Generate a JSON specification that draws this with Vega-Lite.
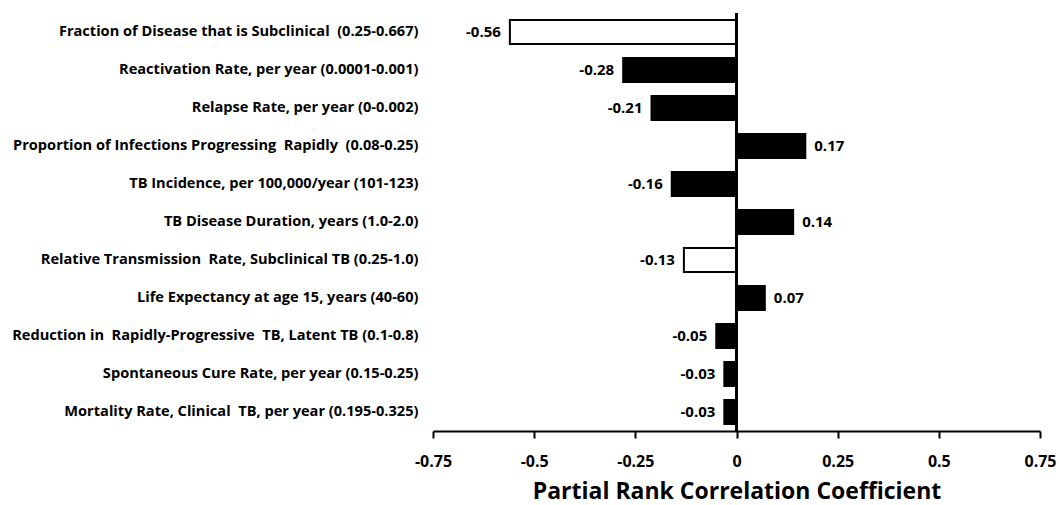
{
  "$schema": "https://vega.github.io/schema/vega-lite/v6.json",
  "autosize": {"type": "none"},
  "padding": {"left": 433, "top": 13, "right": 19, "bottom": 74},
  "width": 607,
  "height": 418,
  "background": "white",
  "config": {"view": {"stroke": null}, "font": "Open Sans"},
  "data": {"values": [
    {"param": "Fraction of Disease that is Subclinical \u00a0(0.25-0.667)", "prcc": -0.56, "kind": "subclinical"},
    {"param": "Reactivation Rate, per year (0.0001-0.001)", "prcc": -0.28, "kind": "other"},
    {"param": "Relapse Rate, per year (0-0.002)", "prcc": -0.21, "kind": "other"},
    {"param": "Proportion of Infections Progressing \u00a0Rapidly \u00a0(0.08-0.25)", "prcc": 0.17, "kind": "other"},
    {"param": "TB Incidence, per 100,000/year (101-123)", "prcc": -0.16, "kind": "other"},
    {"param": "TB Disease Duration, years (1.0-2.0)", "prcc": 0.14, "kind": "other"},
    {"param": "Relative Transmission \u00a0Rate, Subclinical TB (0.25-1.0)", "prcc": -0.13, "kind": "subclinical"},
    {"param": "Life Expectancy at age 15, years (40-60)", "prcc": 0.07, "kind": "other"},
    {"param": "Reduction in \u00a0Rapidly-Progressive \u00a0TB, Latent TB (0.1-0.8)", "prcc": -0.05, "kind": "other"},
    {"param": "Spontaneous Cure Rate, per year (0.15-0.25)", "prcc": -0.03, "kind": "other"},
    {"param": "Mortality Rate, Clinical \u00a0TB, per year (0.195-0.325)", "prcc": -0.03, "kind": "other"}
  ]},
  "encoding": {
    "y": {"field": "param", "type": "nominal", "sort": null,
      "scale": {"paddingInner": 0.37, "paddingOuter": 0.185},
      "axis": {"title": null, "domain": false, "ticks": false, "labelPadding": 15,
        "labelFont": "Open Sans", "labelFontWeight": "bold", "labelFontSize": 14.6, "labelColor": "#000", "labelLimit": 500}}
  },
  "layer": [
    {
      "mark": {"type": "bar", "stroke": "#000", "strokeWidth": 2},
      "encoding": {
        "x": {"field": "prcc", "type": "quantitative",
          "scale": {"domain": [-0.75, 0.75], "nice": false, "zero": false},
          "axis": {"values": [-0.75, -0.5, -0.25, 0, 0.25, 0.5, 0.75],
            "labelExpr": "replace(format(datum.value, '~g'), '\u2212', '-')",
            "grid": false, "domainColor": "#000", "domainWidth": 2, "tickColor": "#000", "tickWidth": 2, "tickSize": 7,
            "labelFont": "Open Sans", "labelFontWeight": "bold", "labelFontSize": 16, "labelColor": "#000", "labelPadding": 15,
            "title": "Partial Rank Correlation Coefficient", "titleFont": "Open Sans", "titleFontWeight": "bold",
            "titleFontSize": 23, "titleColor": "#000", "titlePadding": 11, "labelFlush": false}},
        "fill": {"field": "kind", "type": "nominal",
          "scale": {"domain": ["subclinical", "other"], "range": ["#ffffff", "#000000"]}, "legend": null}
      }
    },
    {
      "mark": {"type": "rule", "color": "#000", "strokeWidth": 2},
      "encoding": {"x": {"datum": 0, "type": "quantitative"}, "y": null}
    },
    {
      "transform": [{"filter": "datum.prcc < 0"}],
      "mark": {"type": "text", "align": "right", "dx": -9, "fontWeight": "bold", "fontSize": 15, "color": "#000", "font": "Open Sans",
        "text": {"expr": "replace(format(datum.prcc, '.2f'), '\u2212', '-')"}},
      "encoding": {"x": {"field": "prcc", "type": "quantitative"}}
    },
    {
      "transform": [{"filter": "datum.prcc >= 0"}],
      "mark": {"type": "text", "align": "left", "dx": 9, "fontWeight": "bold", "fontSize": 15, "color": "#000", "font": "Open Sans",
        "text": {"expr": "replace(format(datum.prcc, '.2f'), '\u2212', '-')"}},
      "encoding": {"x": {"field": "prcc", "type": "quantitative"}}
    }
  ]
}
